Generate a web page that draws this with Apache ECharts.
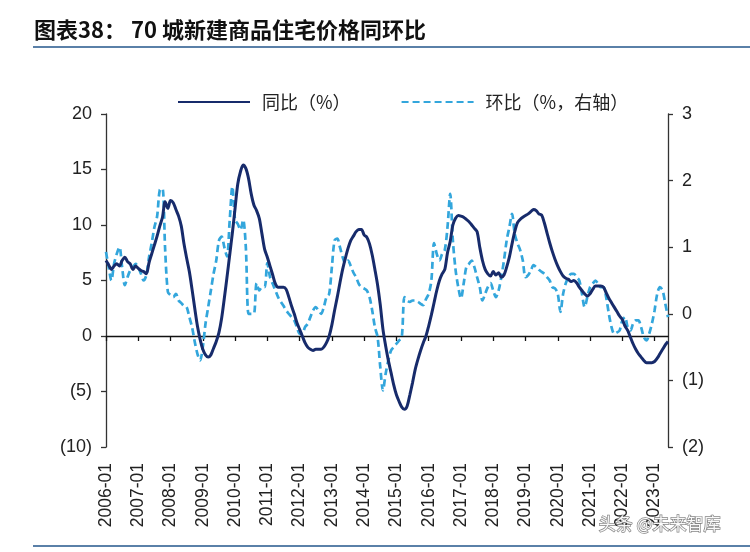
<!DOCTYPE html>
<html>
<head>
<meta charset="utf-8">
<script src="https://cdn.jsdelivr.net/npm/echarts@6/dist/echarts.min.js"></script>
<style>
html,body{margin:0;padding:0;background:#fff;}
#chart{width:750px;height:552px;}
</style>
</head>
<body>
<div id="chart"></div>
<script>
// ---- data ----
const startYear = 2006;
const endYear = 2023;
const endMonth = 6;
const categories = [];
for (let y = startYear; y <= endYear; y++) {
  for (let m = 1; m <= 12; m++) {
    if (y === endYear && m > endMonth) break;
    categories.push(y + '-' + (m < 10 ? '0' + m : m));
  }
}
const yoy = [
  6.8, 6.4, 6.0, 6.3, 6.5, 6.3, 6.8, 7.1, 6.7, 6.5, 6.0, 6.3,
  6.1, 5.9, 5.8, 5.6, 6.6, 7.4, 8.2, 9.0, 9.9, 10.7, 12.1, 11.5,
  12.2, 12.0, 11.4, 10.8, 9.9, 8.3, 7.0, 5.8, 4.2, 2.5, 0.9, -0.3,
  -1.2, -1.7, -1.9, -1.7, -1.1, -0.5, 0.3, 1.6, 3.4, 5.3, 7.3, 9.3,
  11.5, 13.7, 14.8, 15.4, 15.1, 14.2, 12.8, 11.8, 11.3, 10.6, 9.2, 7.8,
  7.1, 6.3, 5.5, 4.7, 4.4, 4.4, 4.4, 4.2, 3.5, 2.7, 2.0, 1.2,
  0.6, 0.0, -0.6, -1.0, -1.2, -1.3, -1.2, -1.2, -1.2, -1.0, -0.6, 0.0,
  1.0, 2.3, 3.5, 4.8, 6.0, 7.0, 7.9, 8.6, 9.0, 9.4, 9.6, 9.6,
  9.1, 8.9, 8.3, 7.3, 6.0, 4.6, 2.8, 0.6, -0.9, -2.2, -3.3, -4.4,
  -5.3, -5.9, -6.4, -6.6, -6.3, -5.3, -4.2, -3.0, -2.1, -1.3, -0.6, 0.0,
  0.9, 1.9, 3.0, 4.1, 5.0, 5.6, 6.0, 7.5, 8.5, 10.0, 10.6, 10.85,
  10.8, 10.7, 10.5, 10.3, 10.0, 9.7, 9.4, 8.0, 6.8, 6.0, 5.6, 5.4,
  5.8, 5.5, 5.7, 5.3, 5.5, 6.2, 7.1, 8.3, 9.4, 10.2, 10.5, 10.7,
  10.85, 11.0, 11.2, 11.4, 11.3, 11.0, 10.9, 10.2, 9.3, 8.4, 7.6, 6.9,
  6.3, 5.8, 5.4, 5.2, 5.1, 4.9, 5.0, 4.8, 4.4, 4.1, 3.8, 3.6,
  3.8, 4.2, 4.5, 4.5, 4.5, 4.4, 3.9, 3.4, 3.0, 2.6, 2.2, 1.8,
  1.5, 0.9, 0.5, -0.1, -0.7, -1.2, -1.6, -1.9, -2.2, -2.4, -2.4, -2.4,
  -2.3, -2.0, -1.6, -1.2, -0.8, -0.5
];
const mom = [
  0.93, 0.7, 0.5, 0.75, 0.9, 1.0, 0.7, 0.43, 0.55, 0.65, 0.7, 0.75,
  0.7, 0.6, 0.5, 0.58, 0.85, 1.06, 1.3, 1.46, 1.86, 1.88, 0.96, 0.33,
  0.28, 0.25, 0.3, 0.2, 0.16, 0.12, 0.1, -0.05, -0.2, -0.42, -0.6, -0.7,
  -0.5, -0.15, 0.1, 0.35, 0.6, 0.8, 1.1, 1.16, 1.0, 0.86, 1.4, 1.91,
  1.41, 1.35, 1.26, 1.41, 1.0, 0.0, 0.0, 0.0, 0.46, 0.35, 0.4, 0.4,
  0.76, 0.55, 0.45, 0.35, 0.25, 0.18, 0.12, 0.05, 0.0, -0.05, -0.1, -0.2,
  -0.3, -0.3, -0.2, -0.15, -0.05, 0.05, 0.1, 0.05, 0.0, 0.1, 0.25, 0.3,
  0.7, 1.1, 1.13, 1.0, 0.85, 0.76, 0.8, 0.72, 0.62, 0.55, 0.45, 0.4,
  0.38, 0.35, 0.25, 0.05, -0.2, -0.35, -0.8, -1.15, -0.9, -0.7, -0.55, -0.5,
  -0.45, -0.4, -0.35, 0.25, 0.2, 0.18, 0.2, 0.2, 0.18, 0.15, 0.13, 0.22,
  0.3, 0.5, 1.06, 0.9, 0.8, 0.9, 0.96, 1.3, 1.8, 1.1, 0.66, 0.4,
  0.23, 0.45, 0.7, 0.75, 0.8, 0.7, 0.55, 0.4, 0.2, 0.3, 0.4, 0.46,
  0.35, 0.25, 0.35, 0.55, 0.8, 1.1, 1.3, 1.5, 1.2, 1.06, 0.96, 0.8,
  0.55, 0.58, 0.65, 0.73, 0.7, 0.66, 0.63, 0.6, 0.55, 0.5, 0.4, 0.38,
  0.3, 0.03, 0.3, 0.46, 0.55, 0.6, 0.6, 0.55, 0.5, 0.3, 0.1, 0.25,
  0.4, 0.45, 0.5, 0.45, 0.4, 0.4, 0.25, 0.0, -0.2, -0.3, -0.28, -0.25,
  -0.1, -0.05, -0.2, -0.25, -0.15, -0.1, -0.1, -0.2, -0.35, -0.4, -0.3, -0.15,
  0.05, 0.3, 0.4, 0.35, 0.15, -0.05
];
const seriesNames = ['同比（%）', '环比（%，右轴）'];
const titleText = '图表38： 70 城新建商品住宅价格同环比';
const watermark = '头条 @未来智库';

// ---- chart ----
const chart = echarts.init(document.getElementById('chart'), null, {renderer: 'canvas'});
const numFont = 'Liberation Sans, Arial, sans-serif';
const cjkFont = 'Noto Sans CJK SC, sans-serif';
const fmtNeg = v => v < 0 ? '(' + (-v) + ')' : String(v);
const isJan = (i, v) => v.slice(5) === '01';

chart.setOption({
  backgroundColor: '#ffffff',
  animation: false,
  grid: {left: 106, right: 82, top: 114, bottom: 105},
  legend: {
    top: 88, left: 172,
    itemWidth: 72, itemHeight: 14, itemGap: 50,
    itemStyle: {opacity: 0},
    textStyle: {fontFamily: cjkFont, fontSize: 18, color: '#222', padding: [0, 0, 0, 7]},
    data: seriesNames
  },
  xAxis: [{
    type: 'category', data: categories, boundaryGap: false,
    axisLine: {onZero: true, onZeroAxisIndex: 0, lineStyle: {color: '#111', width: 1.3}},
    axisTick: {show: true, interval: isJan, length: 5, inside: false, lineStyle: {color: '#111', width: 1.3}},
    axisLabel: {show: false},
    splitLine: {show: false}
  }, {
    type: 'category', data: categories, boundaryGap: false, position: 'bottom',
    axisLine: {show: false, onZero: false},
    axisTick: {show: false},
    axisLabel: {
      show: true, interval: isJan, rotate: 90, margin: 16,
      fontFamily: numFont, fontSize: 17.5, color: '#222'
    },
    splitLine: {show: false}
  }],
  yAxis: [{
    type: 'value', min: -10, max: 20, interval: 5, position: 'left',
    axisLine: {show: true, lineStyle: {color: '#333', width: 1.3}},
    axisTick: {show: true, length: 5, lineStyle: {color: '#333', width: 1.3}},
    axisLabel: {formatter: fmtNeg, fontFamily: numFont, fontSize: 18, color: '#222', margin: 14},
    splitLine: {show: false}
  }, {
    type: 'value', min: -2, max: 3, interval: 1, position: 'right',
    axisLine: {show: true, lineStyle: {color: '#333', width: 1.3}},
    axisTick: {show: true, length: 5, lineStyle: {color: '#333', width: 1.3}},
    axisLabel: {formatter: fmtNeg, fontFamily: numFont, fontSize: 18, color: '#222', margin: 14},
    splitLine: {show: false}
  }],
  series: [{
    name: seriesNames[0], type: 'line', data: yoy,
    xAxisIndex: 0, yAxisIndex: 0,
    symbol: 'none', smooth: 0.3, z: 3,
    lineStyle: {color: '#172b6b', width: 3},
    itemStyle: {color: '#172b6b'}
  }, {
    name: seriesNames[1], type: 'line', data: mom,
    xAxisIndex: 0, yAxisIndex: 1,
    symbol: 'none', smooth: 0.3, z: 2,
    lineStyle: {color: '#33a6dc', width: 2.7, type: [7, 4]},
    itemStyle: {color: '#33a6dc'}
  }],
  graphic: [{
    type: 'text', left: 34, top: 19,
    style: {text: titleText, font: 'bold 22px ' + cjkFont, fill: '#111'}
  }, {
    type: 'line', shape: {x1: 33, y1: 47, x2: 750, y2: 47},
    style: {stroke: '#5a80a8', lineWidth: 2}
  }, {
    type: 'line', shape: {x1: 33, y1: 546, x2: 750, y2: 546},
    style: {stroke: '#5a80a8', lineWidth: 2}
  }, {
    type: 'text', left: 598, top: 514, z: 10,
    style: {text: watermark, font: '17px ' + cjkFont, fill: 'rgba(255,255,255,0.95)',
      stroke: 'rgba(80,80,80,0.7)', lineWidth: 1.4}
  }]
});
</script>
</body>
</html>
